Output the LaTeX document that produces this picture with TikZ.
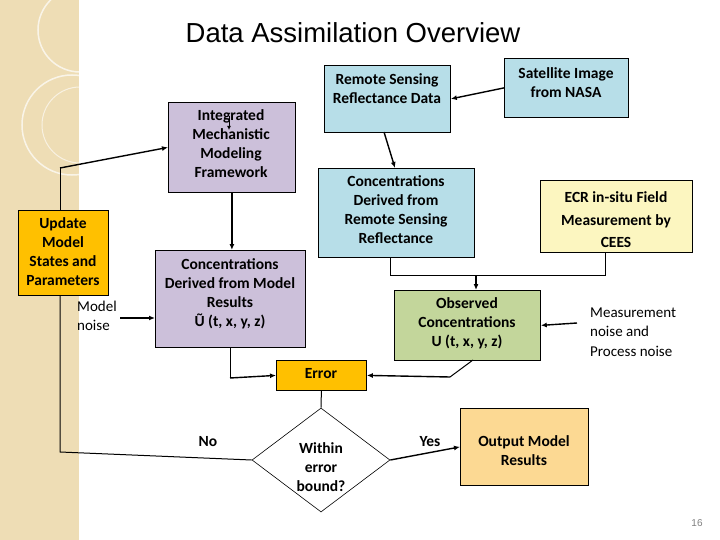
\documentclass[tikz,border=0pt]{standalone}
\usepackage{fontspec}
\setmainfont{Carlito}
\newfontfamily\arialf{Liberation Sans}
\usetikzlibrary{shapes.geometric,arrows.meta}
\definecolor{lav}{HTML}{CCC0DA}
\definecolor{orng}{HTML}{FFC000}
\definecolor{lblue}{HTML}{B7DEE8}
\definecolor{lyel}{HTML}{FCF6C0}
\definecolor{lgreen}{HTML}{C3D69B}
\definecolor{lorng}{HTML}{FCD993}
\definecolor{strip}{HTML}{EEDDB5}
\begin{document}
\begin{tikzpicture}[x=1pt,y=-1pt,
  box/.style={draw=black,line width=0.8pt,inner sep=0pt,anchor=north west},
  txt/.style={font=\bfseries\fontsize{15.5}{19}\selectfont,align=center,inner sep=0pt},
  con/.style={line width=1pt},
  arr/.style={line width=1.4pt,-{Latex[length=6pt,width=5pt]}},
  lbl/.style={font=\fontsize{15}{19.5}\selectfont,align=left,inner sep=0pt,anchor=west}]
\useasboundingbox (0,0) rectangle (720,540);
\fill[white] (0,0) rectangle (720,540);
\fill[strip] (0,0) rectangle (79,540);
\begin{scope}
\clip (0,0) rectangle (79,540);
\draw[white,line width=1.5pt,opacity=0.7] (80,30) circle (42);
\draw[white,line width=1.5pt,opacity=0.7] (72,125) circle (50);
\draw[white,line width=1pt,opacity=0.6] (80,125) circle (38);
\end{scope}
\node[font=\arialf\fontsize{27.5}{30}\selectfont] (title) at (353,33) {Data Assimilation Overview};
% boxes
\node[box,fill=lav,minimum width=127pt,minimum height=90pt] (imm) at (168,102) {};
\node[txt] (immt) at (231,144) {Integrated\\Mechanistic\\Modeling\\Framework};
\node[box,fill=orng,minimum width=90pt,minimum height=85pt] (upd) at (18,210) {};
\node[txt] (updt) at (63,252) {Update\\Model\\States and\\Parameters};
\node[box,fill=lav,minimum width=150pt,minimum height=97pt] (cm) at (155,250) {};
\node[txt] (cmt) at (230,294) {Concentrations\\Derived from Model\\Results\\\~{U} (t, x, y, z)};
\node[box,fill=lblue,minimum width=126pt,minimum height=67pt] (rs) at (324,65) {};
\node[txt] (rst) at (387,89) {Remote Sensing\\Reflectance Data};
\node[box,fill=lblue,minimum width=124pt,minimum height=59pt] (sat) at (504,58) {};
\node[txt] (satt) at (566,83) {Satellite Image\\from NASA};
\node[box,fill=lblue,minimum width=156pt,minimum height=89pt] (crs) at (318,168) {};
\node[txt] (crst) at (396,210) {Concentrations\\Derived from\\Remote Sensing\\Reflectance};
\node[box,fill=lyel,minimum width=152pt,minimum height=72pt] (ecr) at (540,180) {};
\node[txt,font=\bfseries\fontsize{15.5}{22.5}\selectfont] (ecrt) at (616,220) {ECR in-situ Field\\Measurement by\\CEES};
\node[box,fill=lgreen,minimum width=146pt,minimum height=70pt] (obs) at (394,290) {};
\node[txt] (obst) at (467,323) {Observed\\Concentrations\\U (t, x, y, z)};
\node[box,fill=orng,minimum width=90pt,minimum height=30pt] (err) at (276,360) {};
\node[txt] (errt) at (321,374) {Error};
\node[diamond,draw=black,line width=0.6pt,minimum width=138pt,minimum height=104pt,inner sep=0pt] (dia) at (321,460) {};
\node[txt] (diat) at (321,467) {Within\\error\\bound?};
\node[box,fill=lorng,minimum width=128pt,minimum height=77pt] (out) at (460,408) {};
\node[txt] (outt) at (524,451) {Output Model\\Results};
% labels
\node[lbl] (mn) at (77,316) {Model\\noise};
\node[lbl] (mpn) at (590,332) {Measurement\\noise and\\Process noise};
\node[txt] (no) at (208,442) {No};
\node[txt] (yes) at (430,442) {Yes};
\node[font=\arialf\fontsize{10}{12}\selectfont,text=gray] (pg) at (697,523) {16};
% coordinates
\coordinate (c1) at (60,168);
\coordinate (c2) at (390,275);
\coordinate (c3) at (605,275);
\coordinate (c4) at (476,275);
\coordinate (c5) at (230,378);
\coordinate (c6) at (450,377);
\coordinate (c7) at (60,452);
\coordinate (c8) at (577,323);
\coordinate (c9) at (120,318);
\coordinate (s1) at (229,116);
\coordinate (s2) at (229,130);
\coordinate (o1) at (473,360);
% connectors
\draw[con] (upd.north -| c1) -- (c1);
\draw[arr] (c1) -- (imm.west);
\draw[arr] (imm.south) -- (imm.south |- cm.north);
\draw[arr,line width=0.8pt,-{Latex[length=4pt,width=4pt]}] (s1) -- (s2);
\draw[arr] (sat.west) -- (rs.east);
\draw[arr] (384,132) -- (395,168);
\draw[con] (crs.south -| c2) -- (c2) -- (c3) -- (c3 |- ecr.south);
\draw[arr] (c4) -- (c4 |- obs.north);
\draw[arr] (c8) -- (obs.east);
\draw[arr] (c9) -- (cm.west |- c9);
\draw[con] (cm.south -| c5) -- (c5);
\draw[arr] (c5) -- (err.west);
\draw[con] (o1) -- (c6);
\draw[arr] (c6) -- (err.east);
\draw[con] (err.south) -- (dia.north);
\draw[con] (dia.west) -- (c7) -- (upd.south -| c7);
\draw[arr] (dia.east) -- (out.west);
\end{tikzpicture}
\end{document}
